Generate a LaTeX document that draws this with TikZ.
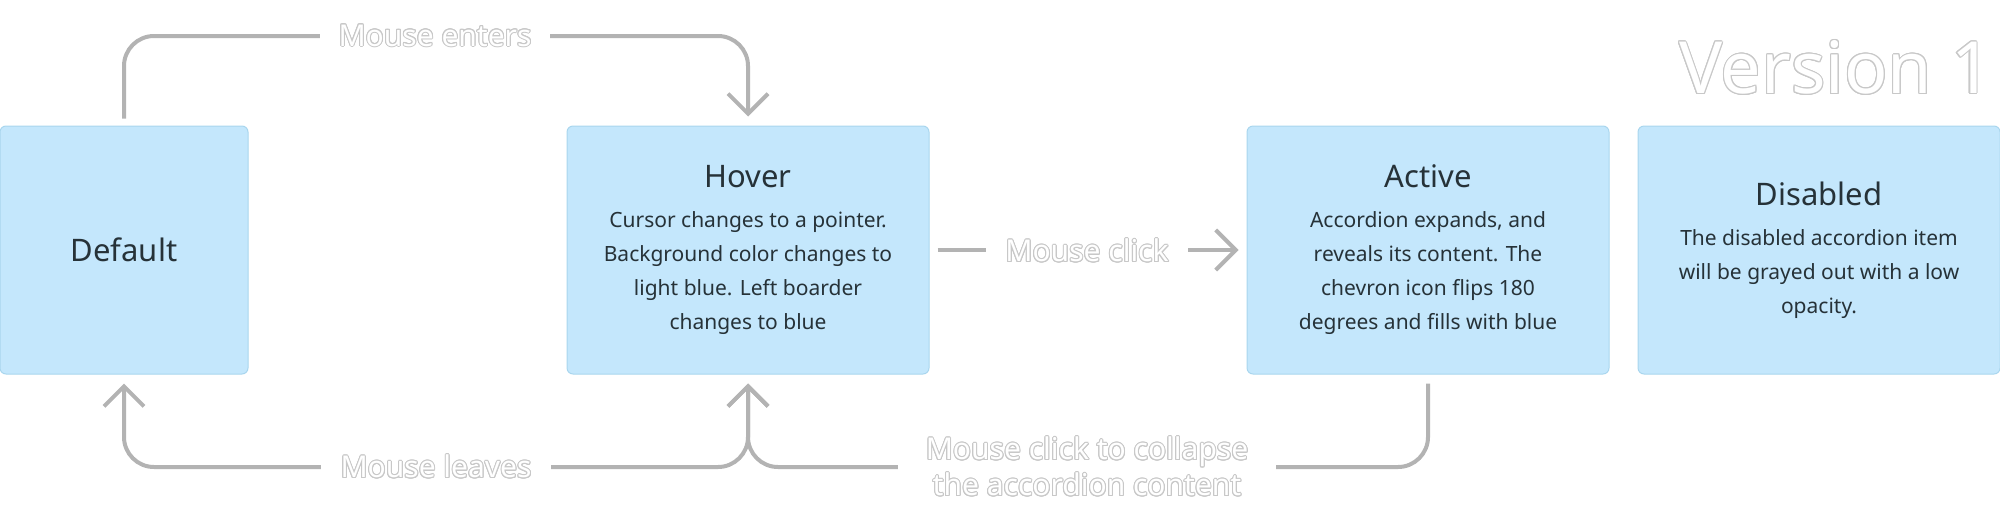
\documentclass[tikz,border=0pt]{standalone}
\usepackage{fontspec}
\setmainfont{Noto Sans}
\usepackage{contour}
\contourlength{0.5pt}
\usetikzlibrary{arrows.meta,calc}
\definecolor{boxfill}{HTML}{C4E7FC}
\definecolor{boxline}{HTML}{A9D6EE}
\definecolor{conncol}{HTML}{B3B3B3}
\definecolor{txt}{HTML}{263238}
\definecolor{outl}{HTML}{C8C8C8}
\newcommand{\ol}[1]{\contour{outl}{\textcolor{white}{#1}}}
\tikzset{
  statebox/.style={draw=boxline, line width=0.5pt, fill=boxfill, rounded corners=3pt, minimum height=124pt, text=txt, align=center, font=\fontsize{10.5}{17}\selectfont},
  conn/.style={draw=conncol, line width=2pt, rounded corners=15pt},
  tip/.style={-{Straight Barb[length=10pt,width=20pt,line width=2pt]}},
  lbl/.style={fill=white, inner xsep=6pt, font=\fontsize{15}{18}\selectfont, align=center},
  ttl/.style={font=\fontsize{15.5}{18}\selectfont}
}
\begin{document}
\begin{tikzpicture}[x=0.5pt,y=-0.5pt]
\useasboundingbox (0,0) rectangle (2000,525);
\node[statebox, minimum width=124pt] (def) at (124,250) {\fontsize{15.5}{18}\selectfont Default};
\node[statebox, minimum width=181pt] (hov) at (748,250) {{\fontsize{15.5}{18}\selectfont Hover}\\[3pt]Cursor changes to a pointer.\\Background color changes to\\light blue. Left boarder\\changes to blue};
\node[statebox, minimum width=181pt] (act) at (1428,250) {{\fontsize{15.5}{18}\selectfont Active}\\[3pt]Accordion expands, and\\reveals its content. The\\chevron icon flips 180\\degrees and fills with blue};
\node[statebox, minimum width=181pt] (dis) at (1819,250) {{\fontsize{15.5}{18}\selectfont Disabled}\\[3pt]The disabled accordion item\\will be grayed out with a low\\opacity.};
\node[anchor=west, font=\bfseries\fontsize{36}{40}\selectfont] (ver) at (1672,68) {\ol{Version 1}};
% connectors
\draw[conn,tip] ($(def.north)+(0,-7)$) |- (748,36) -- ($(hov.north)+(0,-9)$);
\draw[conn,tip] ($(hov.east)+(8,0)$) -- ($(act.west)+(-8,0)$);
\draw[conn,{Straight Barb[length=10pt,width=20pt,line width=2pt]}-] ($(def.south)+(0,9)$) |- (500,467);
\draw[conn,tip] (450,467) -| ($(hov.south)+(0,9)$);
\draw[conn,tip] (1050,467) -| ($(hov.south)+(0,9)$);
\draw[conn] ($(act.south)+(0,9)$) |- (1000,467);
% labels
\node[lbl, minimum width=115pt] (l1) at (435,36) {\ol{Mouse enters}};
\node[lbl, minimum width=101pt] (l2) at (1087,251) {\ol{Mouse click}};
\node[lbl, minimum width=115pt] (l3) at (436,467) {\ol{Mouse leaves}};
\node[lbl, minimum width=189pt] (l4) at (1087,467) {\ol{Mouse click to collapse}\\\ol{the accordion content}};
\end{tikzpicture}
\end{document}
